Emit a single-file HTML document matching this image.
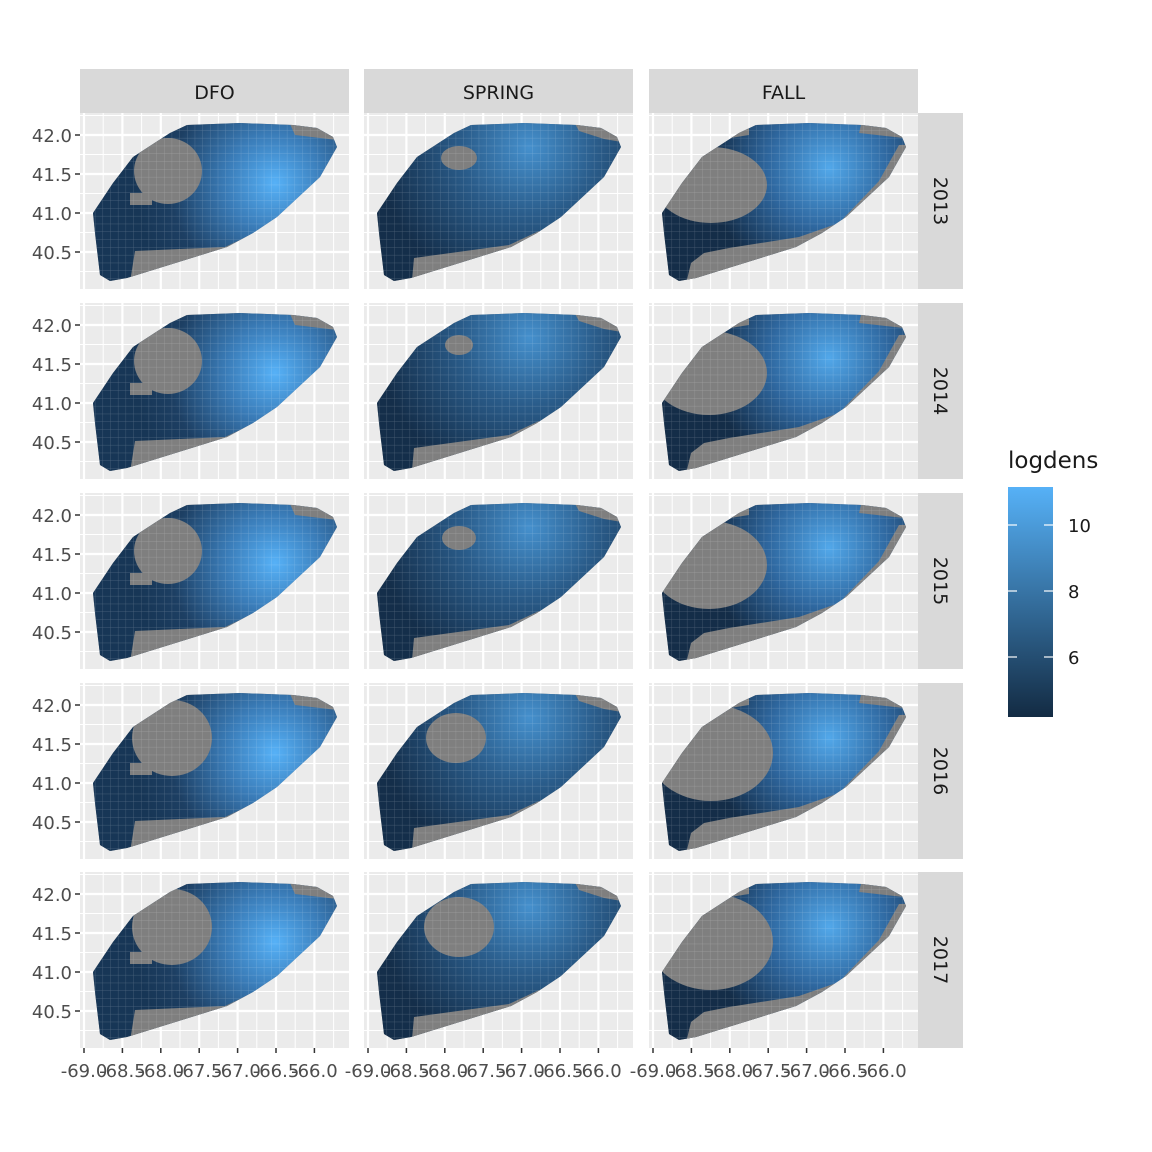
<!DOCTYPE html>
<html><head><meta charset="utf-8"><style>body{margin:0;background:#fff}svg{display:block}</style></head>
<body>
<svg id="s" width="1152" height="1152" xmlns="http://www.w3.org/2000/svg" font-family="DejaVu Sans, Liberation Sans, sans-serif"></svg>
<script>
const s=document.getElementById('s');
let h='';
const cols=[80,364,649], rows=[113,303,493,683,872], W=269, H=176;
const names=['DFO','SPRING','FALL'], yrs=['2013','2014','2015','2016','2017'];
const shape="13,100 15,120 20,162 30,168 47,165 147,134 173,120 197,104 240,64 257,34 253,24 237,15 213,12 160,10 107,12 90,20 53,44 33,70";
h+='<defs>';
h+='<radialGradient id="g0" gradientUnits="userSpaceOnUse" cx="195" cy="70" r="140"><stop offset="0" stop-color="#56B1F7"/><stop offset="0.35" stop-color="#3a7cb8"/><stop offset="0.75" stop-color="#1d3f63"/><stop offset="1" stop-color="#173656"/></radialGradient>';
h+='<radialGradient id="g1" gradientUnits="userSpaceOnUse" cx="165" cy="35" r="150"><stop offset="0" stop-color="#4590cd"/><stop offset="0.45" stop-color="#2a5c8a"/><stop offset="1" stop-color="#142e4a"/></radialGradient>';
h+='<radialGradient id="g2" gradientUnits="userSpaceOnUse" cx="180" cy="55" r="120"><stop offset="0" stop-color="#52a8ea"/><stop offset="0.5" stop-color="#2f68a0"/><stop offset="1" stop-color="#142d48"/></radialGradient>';
h+='<clipPath id="cp"><polygon points="'+shape+'"/></clipPath>';
h+='<pattern id="pt" width="7.68" height="7.8" patternUnits="userSpaceOnUse" x="0" y="2"><path d="M7.68 0V7.8M0 7.8H7.68" stroke="#fff" stroke-opacity="0.25" stroke-width="0.7" fill="none"/></pattern>';
h+='<linearGradient id="lg" x1="0" y1="0" x2="0" y2="1"><stop offset="0" stop-color="#56B1F7"/><stop offset="1" stop-color="#132B43"/></linearGradient>';
h+='</defs>';
const holes={
 0:[[88,58,34,33],[88,58,34,33],[88,58,34,33],[92,55,40,38],[92,55,40,38]],
 1:[[95,45,18,12],[95,42,14,10],[95,45,17,12],[92,55,30,25],[95,55,35,30]],
 2:[[62,72,56,38],[60,70,58,42],[60,72,58,44],[62,70,62,48],[62,70,62,48]]};
for(let c=0;c<3;c++){
 const x0=cols[c];
 h+=`<rect x="${x0}" y="69" width="${W}" height="44" fill="#D9D9D9"/><text x="${x0+W/2}" y="99" font-size="19" text-anchor="middle" fill="#1a1a1a">${names[c]}</text>`;
 for(let r=0;r<5;r++){
  const y0=rows[r];
  h+=`<g transform="translate(${x0},${y0})"><rect width="${W}" height="${H}" fill="#EBEBEB"/>`;
  for(let i=0;i<7;i++){const gx=4+i*38.4;h+=`<line x1="${gx}" y1="0" x2="${gx}" y2="${H}" stroke="#fff" stroke-width="2.2"/>`;h+=`<line x1="${gx+19.2}" y1="0" x2="${gx+19.2}" y2="${H}" stroke="#fff" stroke-width="1"/>`;}
  for(let j=0;j<4;j++){const gy=22+j*39;h+=`<line x1="0" y1="${gy}" x2="${W}" y2="${gy}" stroke="#fff" stroke-width="2.2"/><line x1="0" y1="${gy+19.5}" x2="${W}" y2="${gy+19.5}" stroke="#fff" stroke-width="1"/>`;}
  h+=`<line x1="0" y1="2.5" x2="${W}" y2="2.5" stroke="#fff" stroke-width="1"/>`;
  h+=`<polygon points="${shape}" fill="#7F7F7F"/>`;
  h+=`<g clip-path="url(#cp)"><rect width="${W}" height="${H}" fill="url(#g${c})"/>`;
  const hl=holes[c][r];
  h+=`<ellipse cx="${hl[0]}" cy="${hl[1]}" rx="${hl[2]}" ry="${hl[3]}" fill="#7F7F7F"/>`;
  if(c==0) h+=`<rect x="50" y="80" width="22" height="12" fill="#7F7F7F"/><polygon points="45,200 55,138 145,134 170,122 200,200" fill="#7F7F7F"/><polygon points="205,0 300,0 300,32 215,22" fill="#7F7F7F"/>`;
  if(c==1) h+=`<polygon points="45,200 50,145 145,132 175,118 200,200" fill="#7F7F7F"/><polygon points="205,0 300,0 300,36 240,26 215,18" fill="#7F7F7F"/>`;
  if(c==2) h+=`<polygon points="30,200 42,150 55,140 80,135 150,124 190,110 230,68 250,32 300,30 300,200" fill="#7F7F7F"/><polygon points="215,0 300,0 300,30 210,20" fill="#7F7F7F"/><polygon points="0,0 100,0 100,22 50,30 0,60" fill="#7F7F7F"/>`;
  h+=`<rect width="${W}" height="${H}" fill="url(#pt)"/></g></g>`;
  if(c==2){h+=`<rect x="918" y="${y0}" width="45" height="${H}" fill="#D9D9D9"/><text transform="translate(934,${y0+H/2}) rotate(90)" font-size="19" text-anchor="middle" fill="#1a1a1a">${yrs[r]}</text>`;}
  if(c==0){const ls=['42.0','41.5','41.0','40.5'];for(let j=0;j<4;j++){const gy=y0+22+j*39;h+=`<line x1="75" y1="${gy}" x2="80" y2="${gy}" stroke="#333" stroke-width="1.5"/><text x="72" y="${gy+7}" font-size="18" text-anchor="end" fill="#4D4D4D">${ls[j]}</text>`;}}
 }
 const xs=['-69.0','-68.5','-68.0','-67.5','-67.0','-66.5','-66.0'];
 for(let i=0;i<7;i++){const gx=x0+4+i*38.4;h+=`<line x1="${gx}" y1="1048" x2="${gx}" y2="1053" stroke="#333" stroke-width="1.5"/><text x="${gx}" y="1077" font-size="18" text-anchor="middle" fill="#4D4D4D">${xs[i]}</text>`;}
}
h+=`<text x="1008" y="468" font-size="23" fill="#1a1a1a">logdens</text><rect x="1008" y="487" width="45" height="230" fill="url(#lg)"/>`;
[[525,'10'],[591,'8'],[657,'6']].forEach(t=>{h+=`<line x1="1008" y1="${t[0]}" x2="1017" y2="${t[0]}" stroke="#fff" stroke-width="1.2"/><line x1="1044" y1="${t[0]}" x2="1053" y2="${t[0]}" stroke="#fff" stroke-width="1.2"/><text x="1068" y="${t[0]+7}" font-size="18" fill="#1a1a1a">${t[1]}</text>`;});
s.innerHTML=h;
</script>
</body></html>
